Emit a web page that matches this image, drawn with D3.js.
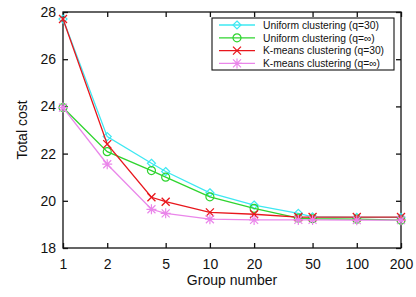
<!DOCTYPE html>
<html>
<head>
<meta charset="utf-8">
<script src="https://cdn.jsdelivr.net/npm/d3@7"></script>
<style>
  body { margin: 0; background: #fff; }
  text { font-family: "Liberation Sans", Arial, sans-serif; fill: #111; }
</style>
</head>
<body>
<div id="chart"></div>
<script>
// group numbers (x) and total cost for each method
let groups = [1, 2, 4, 5, 10, 20, 40, 50, 100, 200];
let uniform30 = [27.70, 22.72, 21.59, 21.24, 20.34, 19.82, 19.47, 19.32, 19.30, 19.30];
let uniformInf = [23.95, 22.08, 21.28, 21.00, 20.17, 19.68, 19.27, 19.24, 19.22, 19.18];
let kmeans30 = [27.70, 22.40, 20.15, 19.96, 19.51, 19.43, 19.31, 19.31, 19.31, 19.31];
let kmeansInf = [23.95, 21.55, 19.64, 19.47, 19.22, 19.19, 19.19, 19.19, 19.18, 19.18];
let seriesNames = ["Uniform clustering (q=30)", "Uniform clustering (q=\u221e)", "K-means clustering (q=30)", "K-means clustering (q=\u221e)"];
let xTicks = [1, 2, 5, 10, 20, 50, 100, 200];
let yTicks = [18, 20, 22, 24, 26, 28];

let width = 416, height = 297;
let margin = {left: 63, right: 15, top: 12, bottom: 49};

let svg = d3.select("#chart").append("svg")
  .attr("width", width)
  .attr("height", height);

let x = d3.scaleLog().domain([1, 200]).range([margin.left, width - margin.right]);
let y = d3.scaleLinear().domain([18, 28]).range([height - margin.bottom, margin.top]);

let series = [
  {name: seriesNames[0], values: uniform30, color: "#3ee8f2", marker: "diamond"},
  {name: seriesNames[1], values: uniformInf, color: "#2fd42f", marker: "circle"},
  {name: seriesNames[2], values: kmeans30, color: "#e8161c", marker: "cross"},
  {name: seriesNames[3], values: kmeansInf, color: "#ea86ea", marker: "star"}
];

// frame
svg.append("rect")
  .attr("x", x(1)).attr("y", y(28))
  .attr("width", x(200) - x(1)).attr("height", y(18) - y(28))
  .attr("fill", "none").attr("stroke", "#111").attr("stroke-width", 1.3);

// inward ticks on all four sides
let tl = 5;
svg.append("g").attr("transform", `translate(0,${y(18)})`)
  .call(d3.axisBottom(x).tickValues(xTicks).tickSize(-tl).tickPadding(11).tickFormat(d3.format("d")))
  .call(g => g.select(".domain").remove());
svg.append("g").attr("transform", `translate(0,${y(28)})`)
  .call(d3.axisTop(x).tickValues(xTicks).tickSize(-tl).tickFormat(""))
  .call(g => g.select(".domain").remove());
svg.append("g").attr("transform", `translate(${x(1)},0)`)
  .call(d3.axisLeft(y).tickValues(yTicks).tickSize(-tl).tickPadding(7))
  .call(g => g.select(".domain").remove());
svg.append("g").attr("transform", `translate(${x(200)},0)`)
  .call(d3.axisRight(y).tickValues(yTicks).tickSize(-tl).tickFormat(""))
  .call(g => g.select(".domain").remove());

svg.selectAll(".tick line").attr("stroke", "#111").attr("stroke-width", 1.3);
svg.selectAll(".tick text").style("font-size", "14px").attr("fill", "#111");

// axis titles
svg.append("text")
  .attr("x", (x(1) + x(200)) / 2).attr("y", 285)
  .attr("text-anchor", "middle").style("font-size", "14px")
  .text("Group number");
svg.append("text")
  .attr("transform", `translate(27,${(y(18) + y(28)) / 2}) rotate(-90)`)
  .attr("text-anchor", "middle").style("font-size", "14px")
  .text("Total cost");

function drawMarker(g, type, color) {
  let s = 4;
  if (type == "diamond") {
    g.append("path").attr("d", `M0,${-s}L${s},0L0,${s}L${-s},0Z`)
      .attr("fill", "none").attr("stroke", color).attr("stroke-width", 1.2);
  } else if (type == "circle") {
    g.append("circle").attr("r", s)
      .attr("fill", "none").attr("stroke", color).attr("stroke-width", 1.2);
  } else if (type == "cross") {
    g.append("path").attr("d", `M${-s},${-s}L${s},${s}M${-s},${s}L${s},${-s}`)
      .attr("stroke", color).attr("stroke-width", 1.3);
  } else {
    g.append("path").attr("d", `M${-s},${-s}L${s},${s}M${-s},${s}L${s},${-s}M0,${-s - 1}L0,${s + 1}M${-s - 1},0L${s + 1},0`)
      .attr("stroke", color).attr("stroke-width", 1.2);
  }
}

let line = d3.line()
  .x((d, i) => x(groups[i]))
  .y(d => y(d));

series.forEach(s => {
  svg.append("path")
    .datum(s.values)
    .attr("d", line)
    .attr("fill", "none")
    .attr("stroke", s.color)
    .attr("stroke-width", 1.3);
  s.values.forEach((v, i) => {
    let g = svg.append("g").attr("transform", `translate(${x(groups[i])},${y(v)})`);
    drawMarker(g, s.marker, s.color);
  });
});

// legend
let legend = svg.append("g");
legend.append("rect")
  .attr("x", 212).attr("y", 18).attr("width", 182).attr("height", 52)
  .attr("fill", "#fff").attr("stroke", "#111").attr("stroke-width", 1.1);
series.forEach((s, i) => {
  let ly = 25 + i * 12.8;
  legend.append("line")
    .attr("x1", 219).attr("x2", 255).attr("y1", ly).attr("y2", ly)
    .attr("stroke", s.color).attr("stroke-width", 1.3);
  drawMarker(legend.append("g").attr("transform", `translate(237,${ly})`), s.marker, s.color);
  legend.append("text")
    .attr("x", 263).attr("y", ly + 3.8)
    .style("font-size", "10.3px")
    .text(s.name);
});
</script>
</body>
</html>
